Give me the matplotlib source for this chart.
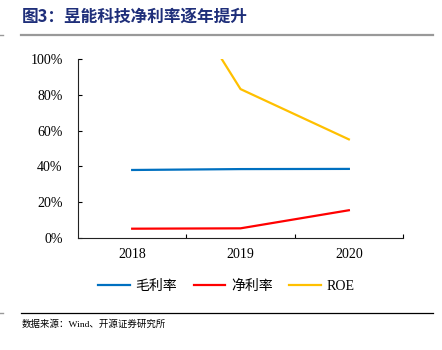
import matplotlib
matplotlib.use("Agg")
import matplotlib.pyplot as plt
from matplotlib.lines import Line2D

plt.rcParams['font.family'] = ['Liberation Serif', 'Noto Sans CJK SC']

years = ["2018", "2019", "2020"]
gross_margin = [38.0, 38.5, 38.6]
net_margin = [5.2, 5.4, 15.5]
roe = [180.0, 83.2, 55.1]
yticks = [0, 20, 40, 60, 80, 100]

fig = plt.figure(figsize=(4.42, 3.5), dpi=100)

# title + rules
fig.text(0.05, 0.952, "图3：昱能科技净利率逐年提升", fontsize=12, fontweight="bold",
         color="#1F2F7A", family=['Noto Sans CJK SC'], ha="left", va="center")
fig.add_artist(Line2D([0.048, 0.98], [0.9, 0.9], color="#999999", lw=1.6))
fig.add_artist(Line2D([0.0, 0.007], [0.9, 0.9], color="#999999", lw=1.0))
fig.add_artist(Line2D([0.048, 0.98], [0.106, 0.106], color="black", lw=0.9))
fig.add_artist(Line2D([0.0, 0.007], [0.106, 0.106], color="#999999", lw=1.0))
fig.text(0.05, 0.073, "数据来源：Wind、开源证券研究所", fontsize=6.8, color="black",
         ha="left", va="center")

ax = fig.add_axes([0.1765, 0.32, 0.7353, 0.5114])
x = list(range(len(years)))
ax.plot(x, gross_margin, color="#0070C0", lw=1.6, label="毛利率")
ax.plot(x, net_margin, color="#FF0000", lw=1.6, label="净利率")
ax.plot(x, roe, color="#FFC000", lw=1.6, label="ROE")

ax.set_xlim(-0.5, 2.5)
ax.set_ylim(0, 100)
ax.set_xticks(x)
ax.set_xticklabels(years, fontsize=10)
ax.set_xticks([0.5, 1.5, 2.5], minor=True)
ax.tick_params(axis="x", which="major", length=0, pad=7)
ax.tick_params(axis="x", which="minor", direction="in", length=3, width=0.8)
ax.set_yticks(yticks)
ax.set_yticklabels([str(v) + "%" for v in yticks], fontsize=10)
ax.tick_params(axis="y", direction="in", length=3, width=0.8, pad=11)
for s in ["top", "right"]:
    ax.spines[s].set_visible(False)
for s in ["left", "bottom"]:
    ax.spines[s].set_linewidth(0.8)
    ax.spines[s].set_color("#222222")

fig.legend(loc="center", bbox_to_anchor=(0.512, 0.183), ncol=3, frameon=False,
           fontsize=10, handlelength=2.3, handletextpad=0.4, columnspacing=1.2)

fig.savefig("out.png", dpi=100)
